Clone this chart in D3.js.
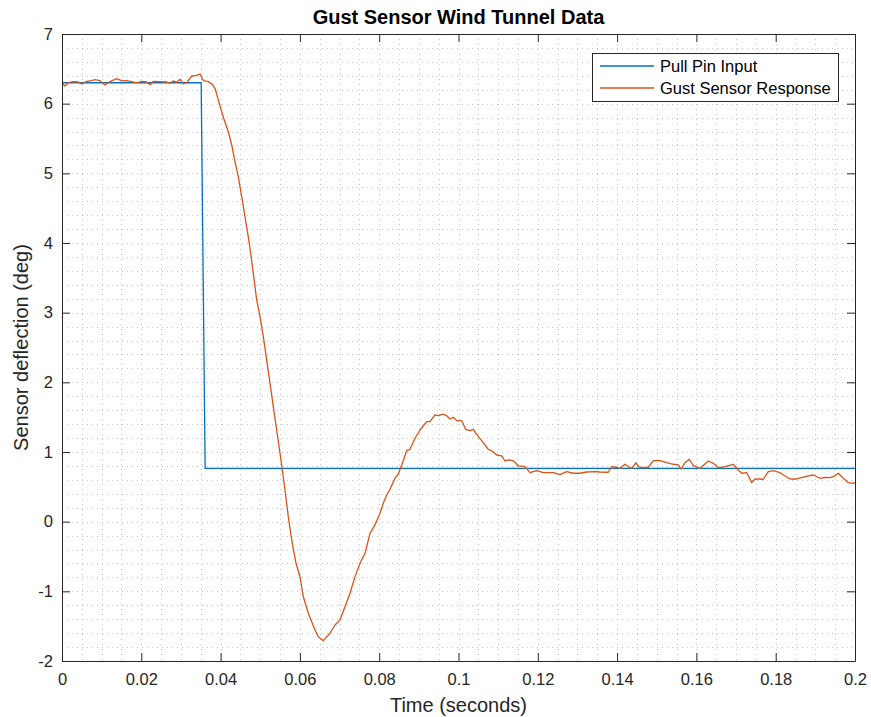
<!DOCTYPE html>
<html>
<head>
<meta charset="utf-8">
<script src="https://cdn.jsdelivr.net/npm/d3@7"></script>
<style>
  html, body { margin: 0; padding: 0; background: #fff; }
  svg { display: block; font-family: "Liberation Sans", Arial, Helvetica, sans-serif; }
</style>
</head>
<body>
<svg id="chart" width="871" height="717"></svg>
<script>
// ---------- DATA ----------
const title = "Gust Sensor Wind Tunnel Data";
const xLabel = "Time (seconds)";
const yLabel = "Sensor deflection (deg)";
const seriesNames = ["Pull Pin Input", "Gust Sensor Response"];

const xTicks = [0, 0.02, 0.04, 0.06, 0.08, 0.1, 0.12, 0.14, 0.16, 0.18, 0.2];
const xTickLabels = ["0", "0.02", "0.04", "0.06", "0.08", "0.1", "0.12", "0.14", "0.16", "0.18", "0.2"];
const yTicks = [-2, -1, 0, 1, 2, 3, 4, 5, 6, 7];
const yTickLabels = ["-2", "-1", "0", "1", "2", "3", "4", "5", "6", "7"];

// Pull pin input (step)
const pinTime = [0, 0.0351, 0.0361, 0.2];
const pinValue = [6.30, 6.30, 0.764, 0.764];

// Gust sensor response
const sensorTime = [
  0, 0.00076, 0.00159, 0.00285, 0.00411, 0.00497, 0.00623, 0.00749, 0.00832, 0.00958,
  0.01085, 0.01211, 0.0138, 0.01506, 0.01632, 0.01758, 0.01884, 0.0201, 0.02136, 0.0222,
  0.02303, 0.02472, 0.02641, 0.02724, 0.02807, 0.02893, 0.02976, 0.03059, 0.03145, 0.03271,
  0.03397, 0.03481, 0.03564, 0.0369, 0.03776, 0.03859, 0.03942, 0.04077, 0.04194, 0.0428,
  0.04363, 0.04446, 0.04532, 0.04615, 0.04724, 0.04825, 0.0491, 0.04994, 0.05077, 0.05163,
  0.05246, 0.05329, 0.05415, 0.05498, 0.05556, 0.05624, 0.05707, 0.05793, 0.05902, 0.06003,
  0.06086, 0.06212, 0.06381, 0.06464, 0.0659, 0.06759, 0.06885, 0.07011, 0.07137, 0.07264,
  0.0739, 0.07516, 0.07642, 0.07768, 0.07894, 0.0802, 0.08103, 0.08189, 0.08272, 0.08399,
  0.08482, 0.08568, 0.08694, 0.08777, 0.08903, 0.09029, 0.09198, 0.09281, 0.09407, 0.09491,
  0.09617, 0.09703, 0.09786, 0.09869, 0.09955, 0.10081, 0.10182, 0.1029, 0.10373, 0.10499,
  0.10626, 0.10752, 0.10837, 0.10963, 0.1109, 0.11173, 0.11256, 0.11382, 0.11508, 0.11677,
  0.11803, 0.11972, 0.12139, 0.12391, 0.1256, 0.12729, 0.12895, 0.13064, 0.13233, 0.13443,
  0.13569, 0.13778, 0.13864, 0.1399, 0.14073, 0.14199, 0.14283, 0.14368, 0.14477, 0.14535,
  0.14621, 0.14787, 0.14913, 0.15082, 0.15251, 0.15417, 0.15544, 0.15612, 0.15712, 0.15821,
  0.15922, 0.16091, 0.163, 0.16426, 0.16553, 0.16721, 0.16931, 0.17057, 0.17143, 0.17269,
  0.17395, 0.17478, 0.17687, 0.17813, 0.17939, 0.18108, 0.18234, 0.1836, 0.18487, 0.18656,
  0.18822, 0.18948, 0.19117, 0.19243, 0.19369, 0.19453, 0.19579, 0.19705, 0.19831, 0.19957,
  0.2
];
const sensorValue = [
  6.293, 6.254, 6.301, 6.316, 6.311, 6.283, 6.321, 6.330, 6.344, 6.330,
  6.268, 6.316, 6.359, 6.326, 6.330, 6.316, 6.297, 6.321, 6.311, 6.272,
  6.321, 6.316, 6.311, 6.293, 6.326, 6.307, 6.350, 6.283, 6.301, 6.397,
  6.407, 6.426, 6.330, 6.316, 6.283, 6.221, 6.054, 5.790, 5.598, 5.407,
  5.167, 4.952, 4.665, 4.378, 3.996, 3.565, 3.182, 2.942, 2.655, 2.320,
  1.989, 1.651, 1.316, 0.982, 0.742, 0.455, 0.072, -0.263, -0.597, -0.794,
  -1.077, -1.315, -1.554, -1.651, -1.708, -1.602, -1.483, -1.411, -1.220, -1.028,
  -0.789, -0.597, -0.454, -0.167, -0.047, 0.121, 0.264, 0.383, 0.465, 0.623,
  0.685, 0.814, 1.019, 1.039, 1.197, 1.316, 1.435, 1.435, 1.532, 1.521,
  1.542, 1.521, 1.474, 1.498, 1.450, 1.450, 1.326, 1.306, 1.326, 1.220,
  1.134, 1.039, 1.019, 0.957, 0.943, 0.871, 0.886, 0.876, 0.800, 0.789,
  0.703, 0.732, 0.703, 0.703, 0.675, 0.718, 0.695, 0.695, 0.713, 0.718,
  0.713, 0.709, 0.789, 0.781, 0.766, 0.824, 0.789, 0.766, 0.847, 0.789,
  0.775, 0.781, 0.876, 0.876, 0.847, 0.824, 0.814, 0.752, 0.847, 0.896,
  0.804, 0.766, 0.871, 0.838, 0.775, 0.789, 0.824, 0.742, 0.695, 0.703,
  0.560, 0.613, 0.609, 0.718, 0.732, 0.703, 0.656, 0.613, 0.609, 0.632,
  0.656, 0.670, 0.623, 0.637, 0.632, 0.646, 0.695, 0.623, 0.560, 0.551,
  0.560
];

// ---------- LAYOUT ----------
const svg = d3.select("#chart");
const mLeft = 62, mRight = 855, mTop = 34, mBottom = 661;

const x = d3.scaleLinear().domain([0, 0.2]).range([mLeft, mRight]);
const y = d3.scaleLinear().domain([-2, 7]).range([mBottom, mTop]);

const axisColor = "#262626";

// minor grid (dotted)
const gridX = d3.range(1, 40).map(i => i * 0.005);
const gridY = d3.range(1, 45).map(i => -2 + i * 0.2);
const grid = svg.append("g");
grid.selectAll("line.gx").data(gridX).enter().append("line")
  .attr("x1", d => Math.round(x(d)) + 0.5).attr("x2", d => Math.round(x(d)) + 0.5)
  .attr("y1", mTop).attr("y2", mBottom)
  .attr("stroke", "#c4c4c4").attr("stroke-width", 1).attr("stroke-dasharray", "1,4");
grid.selectAll("line.gy").data(gridY).enter().append("line")
  .attr("y1", d => Math.round(y(d)) + 0.5).attr("y2", d => Math.round(y(d)) + 0.5)
  .attr("x1", mLeft).attr("x2", mRight)
  .attr("stroke", "#c4c4c4").attr("stroke-width", 1).attr("stroke-dasharray", "1,4");

// clip for data
svg.append("clipPath").attr("id", "clip").append("rect")
  .attr("x", mLeft).attr("y", mTop).attr("width", mRight - mLeft).attr("height", mBottom - mTop);

const line = d3.line().x(d => x(d[0])).y(d => y(d[1]));
const pinData = pinTime.map((t, i) => [t, pinValue[i]]);
const sensorData = sensorTime.map((t, i) => [t, sensorValue[i]]);

const colors = ["#0072BD", "#D95319"];

svg.append("path").datum(pinData).attr("clip-path", "url(#clip)")
  .attr("d", line).attr("fill", "none").attr("stroke", colors[0]).attr("stroke-width", 1.3);
svg.append("path").datum(sensorData).attr("clip-path", "url(#clip)")
  .attr("d", line).attr("fill", "none").attr("stroke", colors[1]).attr("stroke-width", 1.3)
  .attr("stroke-linejoin", "round");

// axes (ticks inward, box)
const tickLen = 8;
const xAxisB = d3.axisBottom(x).tickValues(xTicks).tickFormat((d, i) => xTickLabels[i])
  .tickSizeInner(-tickLen).tickSizeOuter(0).tickPadding(12);
const xAxisT = d3.axisTop(x).tickValues(xTicks).tickFormat("")
  .tickSizeInner(-tickLen).tickSizeOuter(0);
const yAxisL = d3.axisLeft(y).tickValues(yTicks).tickFormat((d, i) => yTickLabels[i])
  .tickSizeInner(-tickLen).tickSizeOuter(0).tickPadding(9);
const yAxisR = d3.axisRight(y).tickValues(yTicks).tickFormat("")
  .tickSizeInner(-tickLen).tickSizeOuter(0);

function style(g) {
  g.select(".domain").attr("stroke", axisColor);
  g.selectAll(".tick line").attr("stroke", axisColor);
  g.selectAll(".tick text").attr("fill", axisColor)
    .attr("font-size", 16.5).attr("font-family", "Liberation Sans, Arial, Helvetica, sans-serif");
}
svg.append("g").attr("transform", `translate(0,${mBottom})`).call(xAxisB).call(style);
svg.append("g").attr("transform", `translate(0,${mTop})`).call(xAxisT).call(style);
svg.append("g").attr("transform", `translate(${mLeft},0)`).call(yAxisL).call(style);
svg.append("g").attr("transform", `translate(${mRight},0)`).call(yAxisR).call(style);

// titles
svg.append("text").attr("x", (mLeft + mRight) / 2).attr("y", 24)
  .attr("text-anchor", "middle").attr("font-weight", "bold").attr("font-size", 20)
  .attr("fill", "#000").text(title);
svg.append("text").attr("x", (mLeft + mRight) / 2).attr("y", 712)
  .attr("text-anchor", "middle").attr("font-size", 20).attr("fill", axisColor).text(xLabel);
svg.append("text").attr("transform", `translate(28,${(mTop + mBottom) / 2}) rotate(-90)`)
  .attr("text-anchor", "middle").attr("font-size", 20).attr("fill", axisColor).text(yLabel);

// legend
const lg = svg.append("g");
const lx = 592, ly = 53, lw = 246, lh = 48;
lg.append("rect").attr("x", lx + 0.5).attr("y", ly + 0.5).attr("width", lw).attr("height", lh)
  .attr("fill", "#fff").attr("stroke", axisColor).attr("stroke-width", 1);
seriesNames.forEach((name, i) => {
  const yy = ly + 13 + i * 22;
  lg.append("line").attr("x1", lx + 8).attr("x2", lx + 62).attr("y1", yy).attr("y2", yy)
    .attr("stroke", colors[i]).attr("stroke-width", 1.3);
  lg.append("text").attr("x", lx + 68).attr("y", yy + 6).attr("font-size", 16.5)
    .attr("fill", "#000").text(name);
});
</script>
</body>
</html>
